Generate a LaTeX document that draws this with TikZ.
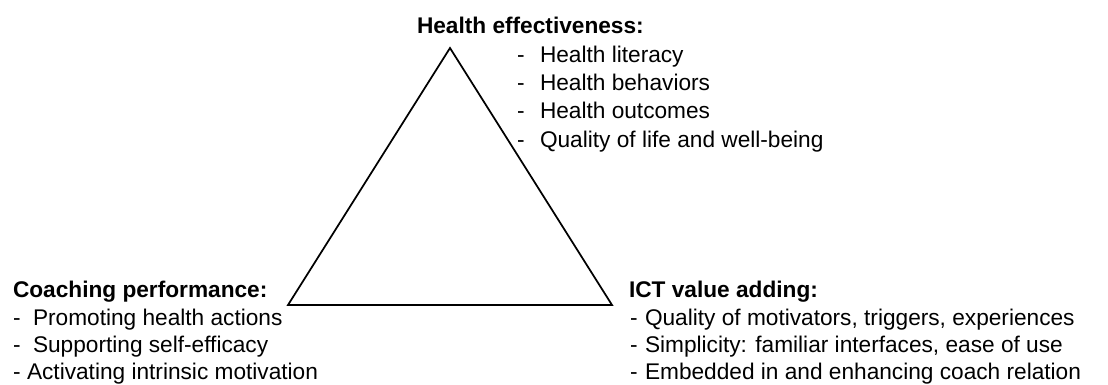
\documentclass[tikz,border=0pt]{standalone}
\usepackage{fontspec}
\setmainfont{Liberation Sans}

\begin{document}
\begin{tikzpicture}[x=0.75pt,y=-0.75pt,
    every node/.style={inner sep=0pt, outer sep=0pt, anchor=base west, font=\fontsize{17}{20}\selectfont},
    head/.style={font=\fontsize{17}{20}\selectfont\bfseries}]
      \useasboundingbox (0,0) rectangle (1108,385);
      % triangle
      \coordinate (apex) at (450,48);
      \coordinate (left) at (288,305);
      \coordinate (right) at (612,305);
      \draw[line width=1.3pt, line join=miter] (apex) -- (left) -- (right) -- cycle;
      % top: health effectiveness
      \node[head] (health) at (417,34) {Health effectiveness:};
      \node (hdash1) at (517,63) {-};  \node (hitem1) at (540,63) {Health literacy};
      \node (hdash2) at (517,91) {-};  \node (hitem2) at (540,91) {Health behaviors};
      \node (hdash3) at (517,119) {-}; \node (hitem3) at (540,119) {Health outcomes};
      \node (hdash4) at (517,147) {-}; \node (hitem4) at (540,147) {Quality of life and well-being};
      % bottom left: coaching performance
      \node[head] (coach) at (13,297) {Coaching performance:};
      \node (cdash1) at (13,325) {-}; \node (citem1) at (33,325) {Promoting health actions};
      \node (cdash2) at (13,352) {-}; \node (citem2) at (33,352) {Supporting self-efficacy};
      \node (cdash3) at (13,379) {-}; \node (citem3) at (27,379) {Activating intrinsic motivation};
      % bottom right: ict value adding
      \node[head] (ict) at (629,297) {ICT value adding:};
      \node (idash1) at (630,325) {-}; \node (iitem1) at (645,325) {Quality of motivators, triggers, experiences};
      \node (idash2) at (630,352) {-}; \node (iitem2) at (645,352) {Simplicity: familiar interfaces, ease of use};
      \node (idash3) at (630,379) {-}; \node (iitem3) at (645,379) {Embedded in and enhancing coach relation};
    \end{tikzpicture}
\end{document}
